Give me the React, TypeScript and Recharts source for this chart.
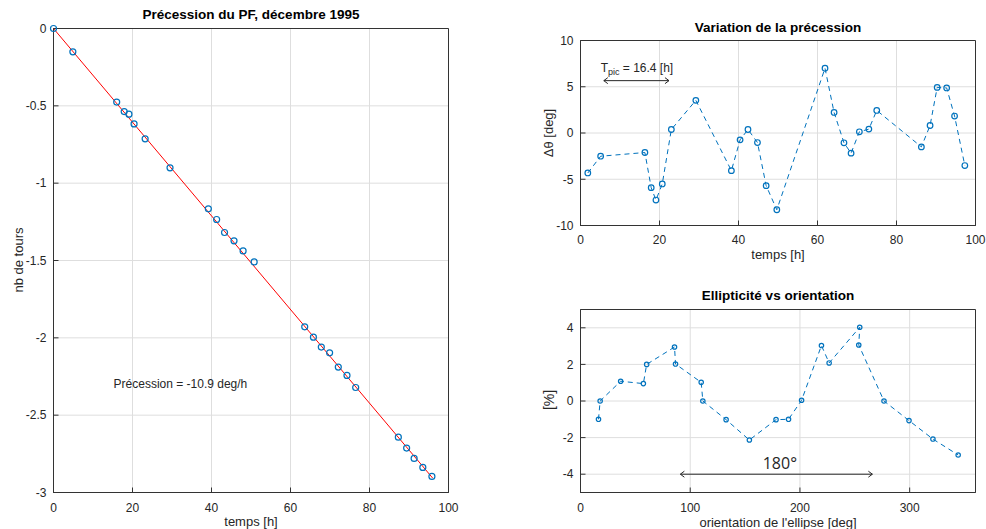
import React from 'react'
import {
  ComposedChart,
  Line,
  Scatter,
  XAxis,
  YAxis,
  CartesianGrid,
  ReferenceLine,
  ReferenceDot,
  ReferenceArea
} from 'recharts'

const BLUE = '#0072BD'
const AXIS = '#262626'
const FRAME = '#333333'
const GRID = '#dedede'
const FONT = '"Liberation Sans", Arial, Helvetica, sans-serif'

// panneau gauche : nb de tours en fonction du temps
const tempsTours = [0, 4.9, 16.0, 17.9, 19.1, 20.4, 23.2, 29.5, 39.2, 41.3, 43.3, 45.7, 48.0, 50.8, 63.6, 65.8, 67.8, 69.9, 72.1, 74.3, 76.5, 87.3, 89.4, 91.3, 93.5, 95.8]
const nbTours = [0, -0.151, -0.476, -0.537, -0.554, -0.617, -0.713, -0.901, -1.166, -1.235, -1.319, -1.373, -1.438, -1.509, -1.929, -1.996, -2.06, -2.097, -2.189, -2.243, -2.321, -2.642, -2.713, -2.78, -2.838, -2.896]
const fitTemps = [0, 96]
const fitTours = [0, -2.907]
const ticksTemps = [0, 20, 40, 60, 80, 100]
const ticksTours = [-3, -2.5, -2, -1.5, -1, -0.5, 0]

// panneau haut droit : variation de la precession
const tempsVar = [1.85, 5.1, 16.3, 17.9, 19.1, 20.7, 23.0, 29.2, 38.2, 40.4, 42.4, 44.8, 47.0, 49.7, 61.9, 64.2, 66.7, 68.5, 70.6, 73.0, 75.0, 86.3, 88.5, 90.3, 92.7, 94.7, 97.3]
const deltaTheta = [-4.32, -2.51, -2.11, -5.91, -7.25, -5.51, 0.38, 3.53, -4.07, -0.74, 0.38, -1.03, -5.69, -8.3, 7.0, 2.22, -1.06, -2.18, 0.13, 0.42, 2.44, -1.5, 0.81, 4.93, 4.87, 1.83, -3.52]
const ticksDelta = [-10, -5, 0, 5, 10]

// panneau bas droit : ellipticite vs orientation
const orientation = [16.4, 17.9, 36.6, 57.3, 60.3, 85.7, 86.6, 110, 111.5, 132.7, 153.9, 178.2, 189.6, 201.5, 219.6, 226.6, 254.5, 253.6, 276.6, 299.4, 321.2, 344.2]
const ellipticite = [-1.0, 0, 1.08, 0.95, 2.0, 2.95, 2.02, 1.02, 0, -1.02, -2.13, -1.02, -1.0, 0.04, 3.03, 2.08, 4.03, 3.06, 0, -1.07, -2.08, -2.95]
const ticksOrient = [0, 100, 200, 300]
const ticksEllip = [-4, -2, 0, 2, 4]

const toursData = tempsTours.map((t, i) => ({ x: t, v: nbTours[i] }))
const fitData = fitTemps.map((t, i) => ({ x: t, v: fitTours[i] }))
const varData = tempsVar.map((x, i) => ({ x, y: deltaTheta[i] }))
const ellipData = orientation.map((x, i) => ({ x, y: ellipticite[i] }))

const tickStyle = { fill: AXIS, fontSize: 12 }

const OpenCircle = (props: any) => (
  <circle cx={props.cx} cy={props.cy} r={3} fill="none" stroke={BLUE} strokeWidth={1.2} />
)

const DoubleArrow = (props: any) => {
  const { x1, y1, x2, y2 } = props
  const h = 4
  return (
    <g stroke={AXIS} strokeWidth={1} fill="none">
      <line x1={x1} y1={y1} x2={x2} y2={y2} />
      <polyline points={`${x1 + h},${y1 - h * 0.75} ${x1},${y1} ${x1 + h},${y1 + h * 0.75}`} />
      <polyline points={`${x2 - h},${y2 - h * 0.75} ${x2},${y2} ${x2 - h},${y2 + h * 0.75}`} />
    </g>
  )
}

const Txt = ({ x, y, children, bold, rotate, size = 13, color = AXIS }: any) => (
  <div
    style={{
      position: 'absolute',
      left: x,
      top: y,
      transform: `translate(-50%, -50%)${rotate ? ' rotate(-90deg)' : ''}`,
      whiteSpace: 'nowrap',
      fontSize: size,
      fontWeight: bold ? 700 : 400,
      color,
      lineHeight: 1
    }}
  >
    {children}
  </div>
)

// axes "boite" a la matlab : ticks vers l'interieur sur les 4 cotes + cadre
const boxAxes = (domX: number[], ticksX: number[], domY: number[], ticksY: number[], mx: number, my: number, wy: number, hx: number) => [
  <XAxis key="xb" xAxisId={0} dataKey="x" type="number" domain={domX} ticks={ticksX} tick={tickStyle}
    stroke={FRAME} tickSize={-5} tickMargin={mx} height={hx} />,
  <XAxis key="xt" xAxisId="top" orientation="top" type="number" domain={domX} ticks={ticksX} tick={false}
    stroke={FRAME} tickSize={-5} height={0} />,
  <YAxis key="yl" yAxisId={0} type="number" domain={domY} ticks={ticksY} tick={tickStyle}
    stroke={FRAME} tickSize={-5} tickMargin={my} width={wy} />,
  <YAxis key="yr" yAxisId="right" orientation="right" type="number" domain={domY} ticks={ticksY} tick={false}
    stroke={FRAME} tickSize={-5} width={0} />,
  <ReferenceArea key="box" x1={domX[0]} x2={domX[1]} y1={domY[0]} y2={domY[1]}
    fill="none" stroke={FRAME} strokeWidth={1} fillOpacity={0} ifOverflow="visible" />
]

export default function App() {
  return (
    <div style={{ position: 'fixed', left: 0, top: 0, width: 986, height: 529, background: '#fff', fontFamily: FONT, overflow: 'hidden' }}>
      {/* gauche */}
      <div style={{ position: 'absolute', left: 0, top: 0 }}>
        <ComposedChart width={470} height={529} margin={{ top: 28.5, right: 21.5, bottom: 6.5, left: 0.5 }}>
          <CartesianGrid stroke={GRID} />
          {boxAxes([0, 100], ticksTemps, [-3, 0], ticksTours, 16, 12, 53, 30)}
          <Line data={fitData} dataKey="v" stroke="#ff0000" strokeWidth={1} dot={false} isAnimationActive={false} />
          <Scatter data={toursData} dataKey="v" shape={OpenCircle} isAnimationActive={false} />
          <ReferenceDot x={15.2} y={-2.3} r={0}
            shape={(p: any) => (
              <text x={p.cx} y={p.cy} dy="0.35em" fill={AXIS} fontSize={12}>Précession = -10.9 deg/h</text>
            )} />
        </ComposedChart>
      </div>

      {/* haut droit */}
      <div style={{ position: 'absolute', left: 520, top: 0 }}>
        <ComposedChart width={466} height={260} data={varData} margin={{ top: 40.5, right: 10.5, bottom: 6.5, left: 0.5 }}>
          <CartesianGrid stroke={GRID} />
          {boxAxes([0, 100], ticksTemps, [-10, 10], ticksDelta, 15, 12, 60, 28)}
          <Line dataKey="y" stroke={BLUE} strokeWidth={1} strokeDasharray="5 4"
            dot={{ r: 2.8, fill: 'none', stroke: BLUE, strokeWidth: 1.2, strokeDasharray: '' }} isAnimationActive={false} />
          <ReferenceLine segment={[{ x: 5.9, y: 5.66 }, { x: 22.4, y: 5.66 }]} shape={DoubleArrow} />
          <ReferenceDot x={5.1} y={6.64} r={0}
            shape={(p: any) => (
              <text x={p.cx} y={p.cy} fill={AXIS} fontSize={12}>
                T<tspan fontSize={9} dy={3}>pic</tspan><tspan dy={-3}> = 16.4 [h]</tspan>
              </text>
            )} />
        </ComposedChart>
      </div>

      {/* bas droit */}
      <div style={{ position: 'absolute', left: 520, top: 270 }}>
        <ComposedChart width={466} height={259} data={ellipData} margin={{ top: 39.5, right: 10.5, bottom: 8.5, left: 0.5 }}>
          <CartesianGrid stroke={GRID} />
          {boxAxes([0, 360], ticksOrient, [-5, 5], ticksEllip, 16, 12, 60, 28)}
          <Line dataKey="y" stroke={BLUE} strokeWidth={1} strokeDasharray="5 4"
            dot={{ r: 2.2, fill: 'none', stroke: BLUE, strokeWidth: 1.2, strokeDasharray: '' }} isAnimationActive={false} />
          <ReferenceLine segment={[{ x: 91, y: -4 }, { x: 266, y: -4 }]} shape={DoubleArrow} />
          <ReferenceDot x={181.7} y={-3.73} r={0}
            shape={(p: any) => (
              <text x={p.cx} y={p.cy} textAnchor="middle" fill={AXIS} fontSize={16} fontFamily='"Open Sans", "Noto Sans", sans-serif'>180°</text>
            )} />
        </ComposedChart>
      </div>

      <Txt x={251} y={15} bold size={13.5} color="#000">Précession du PF, décembre 1995</Txt>
      <Txt x={251} y={521}>temps [h]</Txt>
      <Txt x={18} y={260} rotate>nb de tours</Txt>

      <Txt x={778} y={28} bold size={13.5} color="#000">Variation de la précession</Txt>
      <Txt x={778} y={254}>temps [h]</Txt>
      <Txt x={548} y={133} rotate>Δθ [deg]</Txt>

      <Txt x={778} y={296} bold size={13.5} color="#000">Ellipticité vs orientation</Txt>
      <Txt x={778} y={521.5}>orientation de l'ellipse [deg]</Txt>
      <Txt x={549} y={400} rotate size={14}>[%]</Txt>
    </div>
  )
}
